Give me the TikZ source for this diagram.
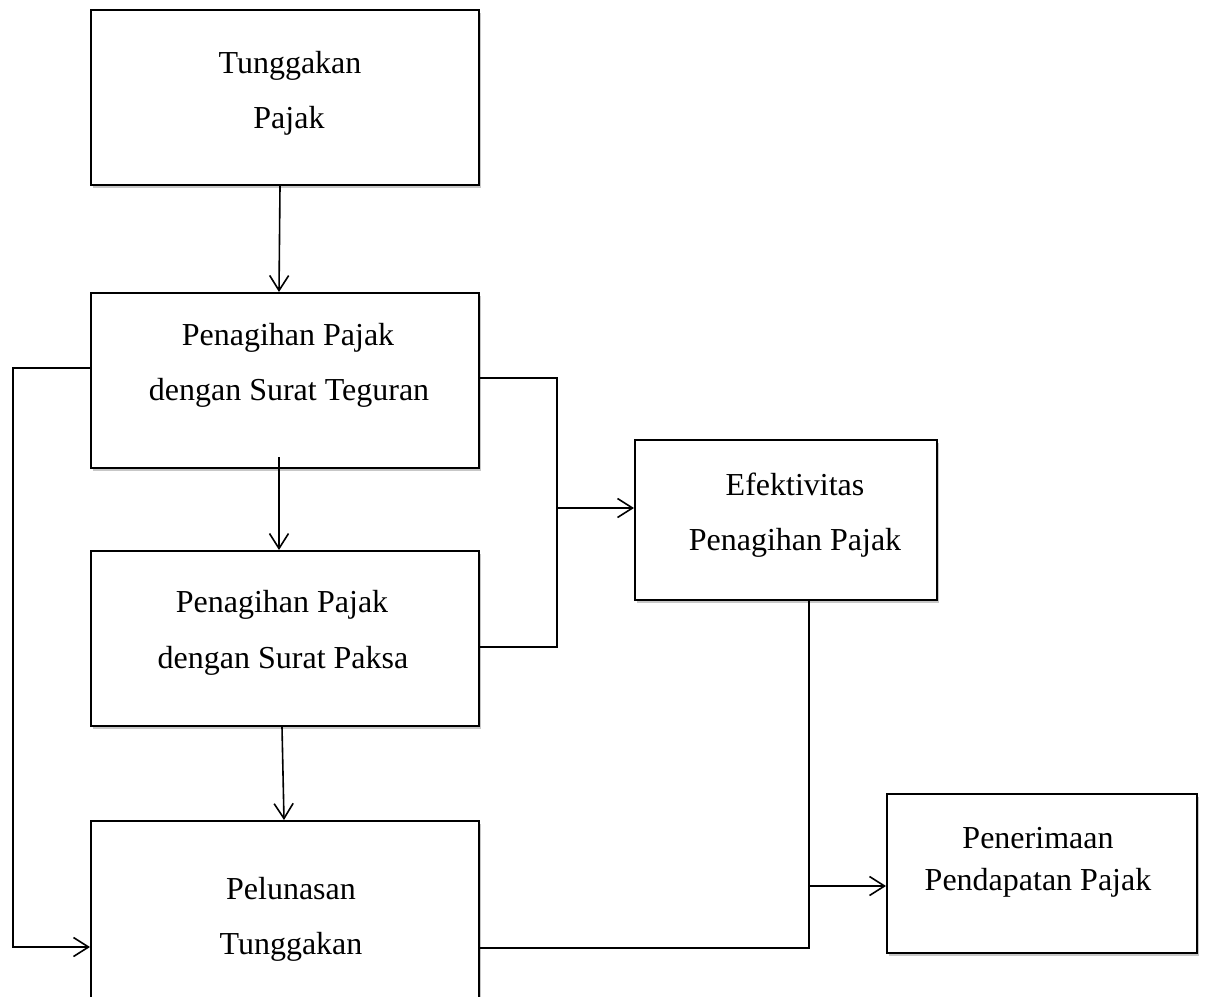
\documentclass[tikz,border=0pt]{standalone}
\usepackage{fontspec}
\setmainfont{Liberation Serif}
\usetikzlibrary{arrows.meta,shadows}
\begin{document}
\begin{tikzpicture}[x=1pt,y=-1pt,
  box/.style={draw=black, line width=2pt, fill=white, inner sep=0pt,
    drop shadow={shadow xshift=2pt, shadow yshift=-3pt, fill=black, opacity=0.22}},
  lbl/.style={anchor=base, inner sep=0pt, font=\fontsize{32}{38}\selectfont},
  conn/.style={line width=1.6pt},
  arr/.style={line width=1.6pt, -{Straight Barb[length=15pt,width=19pt,line width=1.6pt]}}]
\clip (0,0) rectangle (1206,996);
\fill[white] (0,0) rectangle (1206,996);
% boxes
\node[box, minimum width=388pt, minimum height=175pt] (b1) at (285,97.5) {};
\node[box, minimum width=388pt, minimum height=175pt] (b2) at (285,380.5) {};
\node[box, minimum width=388pt, minimum height=175pt] (b3) at (285,638.5) {};
\node[box, minimum width=388pt, minimum height=177pt] (b4) at (285,909.5) {};
\node[box, minimum width=302pt, minimum height=160pt] (b5) at (786,520) {};
\node[box, minimum width=310pt, minimum height=159pt] (b6) at (1042,873.5) {};
% labels
\node[lbl] (t1a) at (290,73) {Tunggakan};
\node[lbl] (t1b) at (289,128) {Pajak};
\node[lbl] (t2a) at (288,345) {Penagihan Pajak};
\node[lbl] (t2b) at (289,400) {dengan Surat Teguran};
\node[lbl] (t3a) at (282,612) {Penagihan Pajak};
\node[lbl] (t3b) at (283,668) {dengan Surat Paksa};
\node[lbl] (t4a) at (291,899) {Pelunasan};
\node[lbl] (t4b) at (291,954) {Tunggakan};
\node[lbl] (t5a) at (795,495) {Efektivitas};
\node[lbl] (t5b) at (795,550) {Penagihan Pajak};
\node[lbl] (t6a) at (1038,848) {Penerimaan};
\node[lbl] (t6b) at (1038,890) {Pendapatan Pajak};
% helper coordinates
\coordinate (lx) at (13,0);
\coordinate (rx) at (557,0);
\coordinate (p1) at ([yshift=12.5pt]b2.west);
\coordinate (p2) at ([yshift=-37.5pt]b4.west);
\coordinate (r1) at ([yshift=2.5pt]b2.east);
\coordinate (r2) at ([yshift=-8.5pt]b3.east);
\coordinate (e1) at ([yshift=12pt]b5.west);
\coordinate (f1) at ([xshift=23pt]b5.south);
\coordinate (f2) at ([yshift=-38.5pt]b4.east);
\coordinate (g1) at ([yshift=-12.5pt]b6.west);
% connectors
\draw[arr] ([xshift=-5pt]b1.south) -- ([xshift=-6pt]b2.north);
\draw[arr] ([xshift=-6pt,yshift=12pt]b2.south) -- ([xshift=-6pt]b3.north);
\draw[arr] ([xshift=-3pt]b3.south) -- ([xshift=-1pt]b4.north);
\draw[arr] (p1) -- (p1 -| lx) -- (p2 -| lx) -- (p2);
\draw[conn] (r1) -- (r1 -| rx) -- (r2 -| rx) -- (r2);
\draw[arr] (e1 -| rx) -- (e1);
\draw[conn] (f1) -- (f2 -| f1) -- (f2);
\draw[arr] (g1 -| f1) -- (g1);
\end{tikzpicture}
\end{document}
